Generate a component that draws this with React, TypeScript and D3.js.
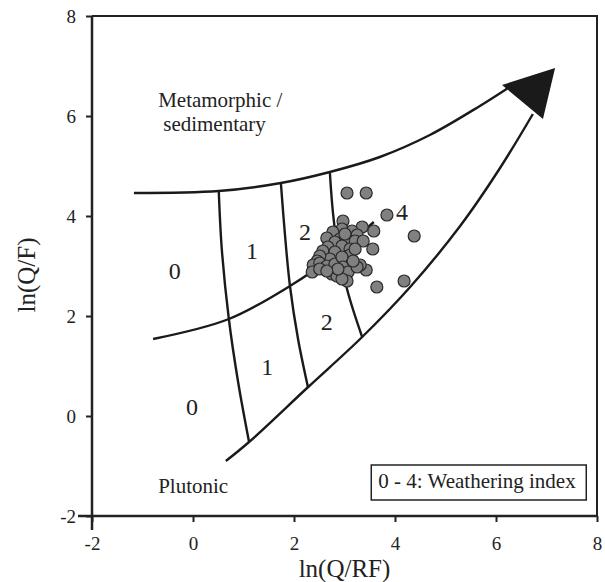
import React, { useEffect, useRef } from 'react';
import * as d3 from 'd3';

const width = 605;
const height = 582;
const margin = { top: 16, right: 8, bottom: 66, left: 92 };

const xTicks = [-2, 0, 2, 4, 6, 8];
const yTicks = [-2, 0, 2, 4, 6, 8];

// boundary curves, [ln(Q/RF), ln(Q/F)]
const upperCurve = [
  [-1.17, 4.46], [0.51, 4.5], [1.74, 4.66], [2.71, 4.88], [3.7, 5.18],
  [4.69, 5.62], [5.68, 6.2], [6.24, 6.56],
];
const middleCurve = [
  [-0.79, 1.54], [0.71, 1.94], [1.92, 2.6], [2.81, 3.22], [3.58, 3.88],
];
const lowerCurve = [
  [0.65, -0.9], [1.11, -0.52], [2.28, 0.58], [3.35, 1.58], [4.3, 2.58],
  [5.29, 3.8], [6.08, 4.96], [6.73, 6.04],
];
const line1 = [[0.51, 4.5], [0.57, 3.34], [0.71, 1.94], [0.89, 0.7], [1.11, -0.52]];
const line2 = [[1.74, 4.66], [1.82, 3.64], [1.92, 2.6], [2.08, 1.54], [2.28, 0.56]];
const line3 = [[2.71, 4.88], [2.81, 3.74], [3.05, 2.54], [3.35, 1.58]];
const arrowHead = [[6.12, 6.62], [7.17, 6.96], [6.93, 5.94]];

const indexLabels = [
  { text: '0', x: -0.36, y: 2.9 },
  { text: '0', x: -0.02, y: 0.18 },
  { text: '1', x: 1.17, y: 3.3 },
  { text: '1', x: 1.47, y: 0.98 },
  { text: '2', x: 2.22, y: 3.68 },
  { text: '2', x: 2.65, y: 1.88 },
  { text: '4', x: 4.14, y: 4.08 },
];

const samplesX = [
  3.05, 3.43, 3.84, 4.38, 3.58, 3.56, 3.43, 3.64, 4.18, 3.35,
  2.97, 2.95, 3.15, 2.77, 3.25, 2.65, 2.91, 3.05, 3.21, 2.81,
  3.37, 2.95, 2.67, 3.11, 2.81, 2.57, 3.11, 2.97, 2.71, 2.51,
  2.46, 2.38, 2.51, 2.65, 2.81, 2.95, 3.15, 2.97, 3.31, 2.36,
  2.51, 2.75, 2.85, 3.07, 3.05, 2.95, 3.25, 3.17, 2.87, 2.65,
  3.21, 3.01,
];
const samplesY = [
  4.46, 4.46, 4.02, 3.6, 3.7, 3.34, 2.92, 2.58, 2.7, 3.78,
  3.9, 3.74, 3.7, 3.68, 3.62, 3.56, 3.54, 3.54, 3.5, 3.48,
  3.5, 3.4, 3.38, 3.34, 3.28, 3.3, 3.22, 3.1, 3.14, 3.2,
  3.1, 3.02, 3.06, 3.0, 3.04, 3.18, 2.98, 2.98, 3.02, 2.88,
  2.94, 2.84, 2.8, 2.88, 2.7, 2.74, 2.98, 3.1, 2.94, 2.9,
  3.34, 3.64,
];

const font = "'Liberation Serif', 'Times New Roman', serif";

const App = () => {
  const svgRef = useRef();

  useEffect(() => {
    const svg = d3.select(svgRef.current);
    svg.selectAll('*').remove();

    const x = d3.scaleLinear().domain([-2, 8]).range([margin.left, width - margin.right]);
    const y = d3.scaleLinear().domain([-2, 8]).range([height - margin.bottom, margin.top]);

    // frame
    svg.append('path')
      .attr('d', `M${x(-2)},${y(8)}H${x(8)}V${y(-2)}`)
      .attr('fill', 'none')
      .attr('stroke', '#222')
      .attr('stroke-width', 2);

    const xAxis = svg.append('g')
      .attr('transform', `translate(0,${y(-2)})`)
      .call(d3.axisBottom(x).tickValues(xTicks).tickSize(6).tickPadding(15).tickFormat(d => String(d)));
    const yAxis = svg.append('g')
      .attr('transform', `translate(${x(-2)},0)`)
      .call(d3.axisLeft(y).tickValues(yTicks).tickSize(6).tickPadding(10).tickFormat(d => String(d)));

    [xAxis, yAxis].forEach(g => {
      g.select('.domain').remove();
      g.selectAll('line').attr('stroke', '#222').attr('stroke-width', 2);
      g.selectAll('text')
        .attr('font-family', font)
        .attr('font-size', 19)
        .attr('fill', '#222');
    });

    // axis lines running a little past the corner
    svg.append('line')
      .attr('x1', x(-2)).attr('x2', x(-2))
      .attr('y1', y(8)).attr('y2', y(-2) + 14)
      .attr('stroke', '#222').attr('stroke-width', 2.5);
    svg.append('line')
      .attr('x1', x(-2) - 14).attr('x2', x(8))
      .attr('y1', y(-2)).attr('y2', y(-2))
      .attr('stroke', '#222').attr('stroke-width', 2.5);

    const curve = d3.line()
      .x(d => x(d[0]))
      .y(d => y(d[1]))
      .curve(d3.curveCatmullRom.alpha(0.5));

    [upperCurve, middleCurve, lowerCurve, line1, line2, line3].forEach(pts => {
      svg.append('path')
        .datum(pts)
        .attr('fill', 'none')
        .attr('stroke', '#1a1a1a')
        .attr('stroke-width', 2.4)
        .attr('d', curve);
    });

    svg.append('path')
      .datum(arrowHead)
      .attr('fill', '#1a1a1a')
      .attr('d', d3.line().x(d => x(d[0])).y(d => y(d[1])).curve(d3.curveLinearClosed));

    svg.selectAll('.idx')
      .data(indexLabels)
      .enter().append('text')
      .attr('class', 'idx')
      .attr('x', d => x(d.x))
      .attr('y', d => y(d.y))
      .attr('dy', '0.35em')
      .attr('text-anchor', 'middle')
      .attr('font-family', font)
      .attr('font-size', 24)
      .attr('fill', '#222')
      .text(d => d.text);

    svg.selectAll('.dot')
      .data(samplesX)
      .enter().append('circle')
      .attr('class', 'dot')
      .attr('cx', d => x(d))
      .attr('cy', (d, i) => y(samplesY[i]))
      .attr('r', 6)
      .attr('fill', '#808080')
      .attr('stroke', '#2a2a2a')
      .attr('stroke-width', 1.2);

    const label = (text, lx, ly, size) => svg.append('text')
      .attr('x', x(lx))
      .attr('y', y(ly))
      .attr('font-family', font)
      .attr('font-size', size)
      .attr('fill', '#222')
      .text(text);

    label('Metamorphic /', -0.69, 6.18, 21);
    label('sedimentary', -0.59, 5.7, 21);
    label('Plutonic', -0.69, -1.54, 21);

    // legend box
    svg.append('rect')
      .attr('x', x(3.53)).attr('y', y(-0.98))
      .attr('width', 215).attr('height', 35)
      .attr('fill', '#fff')
      .attr('stroke', '#222')
      .attr('stroke-width', 1.5);
    label('0 - 4: Weathering index', 3.67, -1.44, 21);

    svg.append('text')
      .attr('x', (x(-2) + x(8)) / 2)
      .attr('y', height - 5)
      .attr('text-anchor', 'middle')
      .attr('font-family', font)
      .attr('font-size', 25)
      .attr('fill', '#222')
      .text('ln(Q/RF)');

    svg.append('text')
      .attr('transform', 'rotate(-90)')
      .attr('x', -275)
      .attr('y', 35)
      .attr('text-anchor', 'middle')
      .attr('font-family', font)
      .attr('font-size', 25)
      .attr('fill', '#222')
      .text('ln(Q/F)');
  }, []);

  return (
    <svg
      ref={svgRef}
      width={width}
      height={height}
      style={{ position: 'absolute', left: 0, top: 0, background: '#fff' }}
    ></svg>
  );
};

export default App;
